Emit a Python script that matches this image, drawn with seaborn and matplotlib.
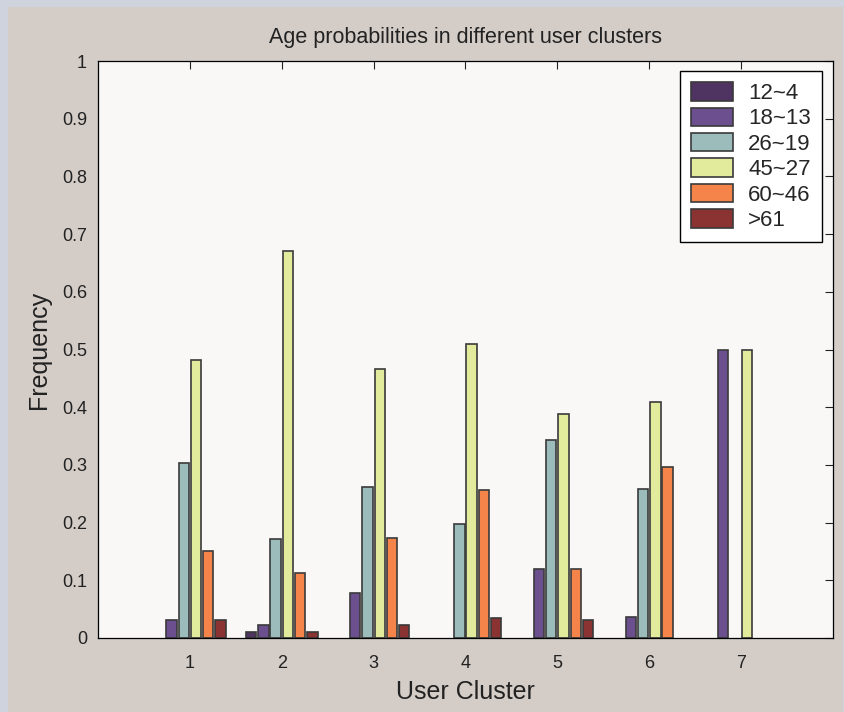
import numpy as np
import pandas as pd
import matplotlib
matplotlib.use("Agg")
import matplotlib.pyplot as plt
import seaborn as sns
from matplotlib.patches import Rectangle

# Age-group frequencies per user cluster
clusters = ["1", "2", "3", "4", "5", "6", "7"]
age_groups = ["12~4", "18~13", "26~19", "45~27", "60~46", ">61"]
freq_12_4 = [0.000, 0.010, 0.000, 0.000, 0.000, 0.000, 0.000]
freq_18_13 = [0.031, 0.022, 0.078, 0.000, 0.119, 0.037, 0.500]
freq_26_19 = [0.303, 0.172, 0.262, 0.198, 0.344, 0.259, 0.000]
freq_45_27 = [0.482, 0.671, 0.466, 0.510, 0.388, 0.409, 0.500]
freq_60_46 = [0.150, 0.112, 0.174, 0.256, 0.119, 0.297, 0.000]
freq_61 = [0.031, 0.010, 0.022, 0.034, 0.031, 0.000, 0.000]

group_colors = ["#4f3360", "#6b4f8f", "#9bbcbb", "#e2ea9c", "#f5844a", "#8b3232"]
ytick_values = [0, 0.1, 0.2, 0.3, 0.4, 0.5, 0.6, 0.7, 0.8, 0.9, 1.0]
ytick_labels = ["0", "0.1", "0.2", "0.3", "0.4", "0.5", "0.6", "0.7", "0.8", "0.9", "1"]

series = [freq_12_4, freq_18_13, freq_26_19, freq_45_27, freq_60_46, freq_61]
rows = []
for grp, vals in zip(age_groups, series):
    for c, v in zip(clusters, vals):
        rows.append({"cluster": c, "age": grp, "freq": v})
df = pd.DataFrame(rows)

sns.set_theme(style="white")
plt.rcParams["font.family"] = ["Liberation Sans", "DejaVu Sans"]

W, H = 845, 712
EDGE = "#3a3a3a"
fig = plt.figure(figsize=(W / 100, H / 100), dpi=100)
fig.patch.set_facecolor("#cfd3dd")
fig.add_artist(Rectangle((8 / W, 0), (843 - 8) / W, (H - 7) / H,
                         transform=fig.transFigure, facecolor="#d3ccc7",
                         edgecolor="none", zorder=-10))

ax = fig.add_axes([98 / W, (H - 638) / H, 735 / W, 577 / H])
ax.set_facecolor("#f9f8f6")

sns.barplot(data=df, x="cluster", y="freq", hue="age", order=clusters,
            hue_order=age_groups, palette=group_colors, saturation=1,
            width=0.8, gap=0.15, errorbar=None, edgecolor=EDGE,
            linewidth=1.2, ax=ax)

ax.set_xlim(-1, 7)
ax.set_ylim(0, 1)
ax.set_yticks(ytick_values)
ax.set_yticklabels(ytick_labels)
for s in ax.spines.values():
    s.set_visible(True)
    s.set_color("black")
    s.set_linewidth(0.9)
    s.set_zorder(5)
ax.tick_params(direction="in", top=True, right=True, length=6, width=0.8,
               labelsize=13, colors="#222222")
ax.tick_params(axis="y", pad=8)
ax.tick_params(axis="x", pad=12)

ax.set_title("Age probabilities in different user clusters", fontsize=15.5,
             pad=13, color="#222222")
ax.set_xlabel("User Cluster", fontsize=18, labelpad=6, color="#222222")
ax.set_ylabel("Frequency", fontsize=18, labelpad=8, color="#222222")

handles, labels = ax.get_legend_handles_labels()
leg = ax.legend(handles, labels, loc="upper right",
                bbox_to_anchor=((822 - 98) / 735, (638 - 71) / 577),
                borderaxespad=0, fontsize=16, frameon=True, fancybox=False,
                edgecolor="black", facecolor="white", framealpha=1,
                handlelength=1.85, handleheight=0.9, labelspacing=0.16,
                handletextpad=0.7, borderpad=0.5)
for h, col in zip(leg.legend_handles, group_colors):
    h.set_facecolor(col)
    h.set_edgecolor(EDGE)
    h.set_linewidth(1.2)

# empty bars leave no outline on the baseline
for bar in ax.patches:
    if bar.get_height() == 0:
        bar.set_linewidth(0)

fig.savefig("out.png", dpi=100, facecolor=fig.get_facecolor())
